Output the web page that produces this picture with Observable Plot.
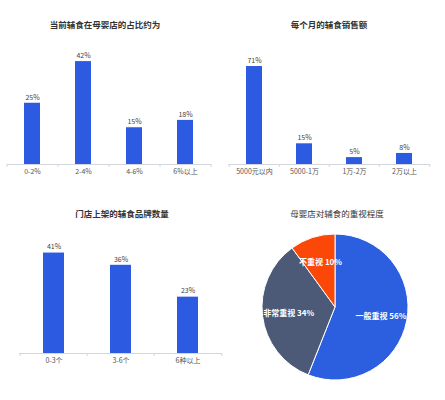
<!DOCTYPE html>
<html><head><meta charset="utf-8">
<script src="https://cdn.jsdelivr.net/npm/d3@7"></script>
<script src="https://cdn.jsdelivr.net/npm/@observablehq/plot@0.6"></script>
<style>
body{margin:0;background:#fff;font-family:"Noto Sans CJK SC",sans-serif;}
#root{position:relative;width:445px;height:400px;overflow:hidden;background:#fff;}
.panel{position:absolute;}
.panel svg{display:block;}
.title{position:absolute;transform:translate(-50%,-50%);white-space:nowrap;font-size:8.5px;font-weight:bold;color:#333;line-height:1;}
</style></head><body><div id="root"></div>
<script>
// ---- data ----
const shareCats = ["0-2%", "2-4%", "4-6%", "6%以上"];
const shareVals = [25, 42, 15, 18];
const salesCats = ["5000元以内", "5000-1万", "1万-2万", "2万以上"];
const salesVals = [71, 15, 5, 8];
const brandCats = ["0-3个", "3-6个", "6种以上"];
const brandVals = [41, 36, 23];
const pieCats = ["一般重视", "非常重视", "不重视"];
const pieVals = [56, 34, 10];
const titleShare = "当前辅食在母婴店的占比约为";
const titleSales = "每个月的辅食销售额";
const titleBrand = "门店上架的辅食品牌数量";
const titlePie = "母婴店对辅食的重视程度";

const BAR = "#2c5ae0";
const pieColors = ["#2b5fe0", "#4c5a77", "#fb4808"];
const root = document.getElementById("root");
const FONT = '"Noto Sans CJK SC", sans-serif';

function panel(left, top, node) {
  const d = document.createElement("div");
  d.className = "panel";
  d.style.left = left + "px"; d.style.top = top + "px";
  d.appendChild(node);
  root.appendChild(d);
}
function title(text, cx, cy, weight) {
  const t = document.createElement("div");
  t.className = "title";
  t.textContent = text;
  t.style.left = cx + "px"; t.style.top = cy + "px";
  if (weight) t.style.fontWeight = weight;
  root.appendChild(t);
}

function barChart({cats, vals, width, height, ml, mr, mt, mb, ymax, pad}) {
  const rows = cats.map((c, i) => ({cat: c, v: vals[i]}));
  const step = (width - ml - mr) / cats.length;
  return Plot.plot({
    width, height, marginLeft: ml, marginRight: mr, marginTop: mt, marginBottom: mb,
    style: {fontFamily: FONT, background: "transparent", overflow: "visible"},
    x: {domain: cats, paddingInner: pad, paddingOuter: pad / 2, label: null, axis: null},
    y: {domain: [0, ymax], axis: null},
    marks: [
      Plot.barY(rows, {x: "cat", y: "v", fill: BAR}),
      Plot.ruleY([0], {stroke: "#d3d6dc"}),
      Plot.axisX({tickSize: 3, text: null, stroke: "#d3d6dc", dx: -step / 2}),
      Plot.axisX({ticks: [cats[cats.length - 1]], tickSize: 3, text: null, stroke: "#d3d6dc", dx: step / 2}),
      Plot.axisX({tickSize: 0, tickPadding: 5, fontSize: 7, color: "#555", label: null}),
      Plot.text(rows, {x: "cat", y: "v", text: d => d.v + "%", dy: -6, fontSize: 7, fill: "#444"})
    ]
  });
}

panel(0, 0, barChart({cats: shareCats, vals: shareVals, width: 222, height: 200,
  ml: 7, mr: 11, mt: 17, mb: 36, ymax: 60, pad: 0.686}));
panel(222, 0, barChart({cats: salesCats, vals: salesVals, width: 223, height: 200,
  ml: 6, mr: 15, mt: 26, mb: 36, ymax: 100, pad: 0.68}));
panel(0, 200, barChart({cats: brandCats, vals: brandVals, width: 222, height: 200,
  ml: 19, mr: 0, mt: 6, mb: 47, ymax: 60, pad: 0.69}));

// pie
const pieRows = pieCats.map((c, i) => ({label: c, value: pieVals[i]}));
const R = 73;
function pieMark(index, scales, values, dims) {
  const cx = (dims.marginLeft + dims.width - dims.marginRight) / 2;
  const cy = (dims.marginTop + dims.height - dims.marginBottom) / 2;
  const color = scales.color || (l => pieColors[pieCats.indexOf(l)]);
  const arcs = d3.pie().sort(null).value(d => d.value)(pieRows);
  const arc = d3.arc().innerRadius(0).outerRadius(R);
  const labelArc = d3.arc().innerRadius(R * 0.64).outerRadius(R * 0.64);
  const g = d3.create("svg:g").attr("transform", `translate(${cx},${cy})`);
  g.selectAll("path").data(arcs).join("path")
    .attr("d", arc).attr("fill", a => color(a.data.label))
    .attr("stroke", "#fff").attr("stroke-width", 1);
  g.selectAll("text").data(arcs).join("text")
    .attr("transform", a => `translate(${labelArc.centroid(a)})`)
    .attr("text-anchor", "middle").attr("dy", "0.35em")
    .attr("fill", "#fff").attr("font-size", 8).attr("font-weight", "bold")
    .attr("font-family", FONT)
    .text(a => `${a.data.label} ${a.data.value}%`);
  return g.node();
}
const pie = Plot.plot({
  width: 223, height: 200, marginLeft: 3, marginRight: 0, marginTop: 14, marginBottom: 0,
  style: {fontFamily: FONT, background: "transparent", overflow: "visible"},
  color: {domain: pieCats, range: pieColors},
  marks: [
    Plot.dot(pieRows, {fill: "label", r: 0}),
    pieMark
  ]
});
panel(222, 200, pie);

title(titleShare, 105, 24);
title(titleSales, 329, 24);
title(titleBrand, 122, 213);
title(titlePie, 337, 213, "normal");
</script>
</body></html>
